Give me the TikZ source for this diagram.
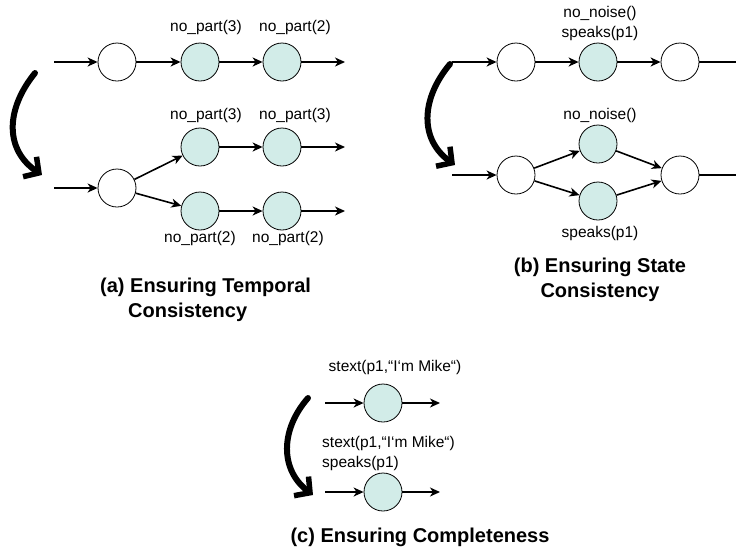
\documentclass[tikz,border=0pt]{standalone}
\usepackage{fontspec}
\setmainfont{Liberation Sans}
\usetikzlibrary{arrows.meta}
\definecolor{factfill}{RGB}{210,236,232}
\tikzset{
  state/.style={circle,draw,line width=0.8pt,minimum size=38pt,inner sep=0pt,fill=white},
  fact/.style={state,fill=factfill},
  flow/.style={line width=1.6pt,-{Stealth[length=10pt,width=9pt,inset=3pt]}},
  turn/.style={line width=6pt,line cap=round,-{Straight Barb[length=11pt,width=24pt,line width=5.5pt]}},
  lbl/.style={font=\fontsize{15.5}{20}\selectfont,inner sep=0pt},
  caption/.style={font=\fontsize{20}{25}\selectfont\bfseries,inner sep=0pt}
}

\begin{document}
\begin{tikzpicture}[x=1pt,y=-1pt]
\useasboundingbox (0,0) rectangle (736,547);

% (a) temporal consistency
\coordinate (ain) at (54,62);
\node[state] (a1) at (117,62) {};
\node[fact] (a2) at (200,62) {};
\node[fact] (a3) at (282,62) {};
\coordinate (aout) at (345,62);
\draw[flow] (ain) -- (a1);
\draw[flow] (a1) -- (a2);
\draw[flow] (a2) -- (a3);
\draw[flow] (a3) -- (aout);
\node[lbl] (a2lbl) at (206,27) {no\_part(3)};
\node[lbl] (a3lbl) at (295,27) {no\_part(2)};

\coordinate (bin) at (54,188);
\node[state] (b1) at (117,188) {};
\node[fact] (bu1) at (200,147) {};
\node[fact] (bu2) at (282,147) {};
\node[fact] (bl1) at (200,211) {};
\node[fact] (bl2) at (282,211) {};
\coordinate (buout) at (345,147);
\coordinate (blout) at (345,211);
\draw[flow] (bin) -- (b1);
\draw[flow] (b1) -- (bu1);
\draw[flow] (b1) -- (bl1);
\draw[flow] (bu1) -- (bu2);
\draw[flow] (bl1) -- (bl2);
\draw[flow] (bu2) -- (buout);
\draw[flow] (bl2) -- (blout);
\node[lbl] (bu1lbl) at (206,115) {no\_part(3)};
\node[lbl] (bu2lbl) at (295,115) {no\_part(3)};
\node[lbl] (bl1lbl) at (200,238) {no\_part(2)};
\node[lbl] (bl2lbl) at (288,238) {no\_part(2)};

\coordinate (aturn1) at (35,73);
\coordinate (aturn2) at (42,175);
\draw[turn] (aturn1) .. controls (5,110) and (5,150) .. (aturn2);

\node[caption,align=left,anchor=west] (acap) at (100,300)
  {(a) Ensuring Temporal\\\hspace*{28pt}Consistency};

% (b) state consistency
\coordinate (cin) at (452,62);
\node[state] (c1) at (516,62) {};
\node[fact] (c2) at (598,62) {};
\node[state] (c3) at (680,62) {};
\coordinate (cout) at (748,62);
\draw[flow] (cin) -- (c1);
\draw[flow] (c1) -- (c2);
\draw[flow] (c2) -- (c3);
\draw[flow] (c3) -- (cout);
\node[lbl,align=center] (c2lbl) at (600,23) {no\_noise()\\speaks(p1)};

\coordinate (din) at (452,175);
\node[state] (d1) at (516,175) {};
\node[fact] (du) at (598,144) {};
\node[fact] (dl) at (598,201) {};
\node[state] (d4) at (680,175) {};
\coordinate (dout) at (748,175);
\draw[flow] (din) -- (d1);
\draw[flow] (d1) -- (du);
\draw[flow] (d1) -- (dl);
\draw[flow] (du) -- (d4);
\draw[flow] (dl) -- (d4);
\draw[flow] (d4) -- (dout);
\node[lbl] (dulbl) at (600,115) {no\_noise()};
\node[lbl] (dllbl) at (600,233) {speaks(p1)};

\coordinate (bturn1) at (450,64);
\coordinate (bturn2) at (455,165);
\draw[turn] (bturn1) .. controls (420,100) and (420,140) .. (bturn2);

\node[caption,align=center] (bcap) at (600,280) {(b) Ensuring State\\Consistency};

% (c) completeness
\coordinate (ein) at (325,403);
\node[fact] (e1) at (383,403) {};
\coordinate (eout) at (440,403);
\draw[flow] (ein) -- (e1);
\draw[flow] (e1) -- (eout);
\node[lbl] (e1lbl) at (395,367) {stext(p1,“I‘m Mike“)};

\coordinate (fin) at (325,492);
\node[fact] (f1) at (383,492) {};
\coordinate (fout) at (440,492);
\draw[flow] (fin) -- (f1);
\draw[flow] (f1) -- (fout);
\node[lbl,align=left,anchor=west] (f1lbl) at (322,453) {stext(p1,“I‘m Mike“)\\speaks(p1)};

\coordinate (cturn1) at (308,398);
\coordinate (cturn2) at (313,495);
\draw[turn] (cturn1) .. controls (280,430) and (280,470) .. (cturn2);

\node[caption] (ccap) at (420,537) {(c) Ensuring Completeness};
\end{tikzpicture}
\end{document}
